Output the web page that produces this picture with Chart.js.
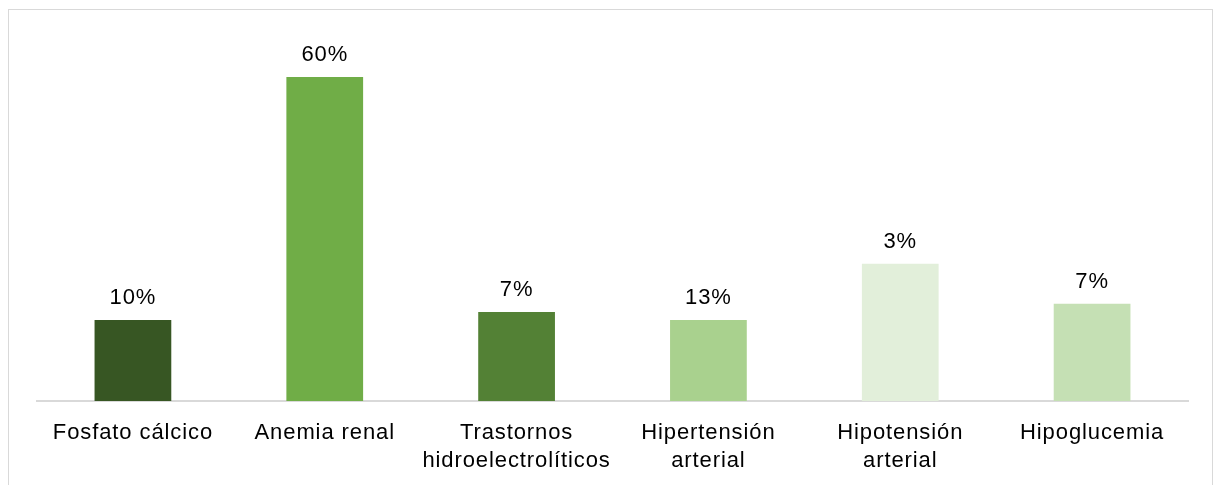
<!DOCTYPE html>
<html>
<head>
<meta charset="utf-8">
<script src="https://cdn.jsdelivr.net/npm/chart.js@4/dist/chart.umd.min.js"></script>
<style>
  html, body { margin: 0; padding: 0; background: #ffffff; }
  #wrap { position: relative; width: 1222px; height: 485px; }
  canvas { display: block; }
</style>
</head>
<body>
<div id="wrap"><canvas id="c" width="1222" height="485"></canvas></div>
<script>
// Data
const categories = [
  "Fosfato cálcico",
  "Anemia renal",
  ["Trastornos", "hidroelectrolíticos"],
  ["Hipertensión", "arterial"],
  ["Hipotensión", "arterial"],
  "Hipoglucemia"
];
// bar heights as drawn in the picture (relative units, 60 = tallest bar)
const barValues = [15, 60, 16.5, 15, 25.4, 18];
// the printed labels above each bar
const valueLabels = ["10%", "60%", "7%", "13%", "3%", "7%"];
const barColors = ["#375623", "#70AD47", "#538135", "#A9D18E", "#E2EFDA", "#C5E0B4"];

const FONT = "'Liberation Sans', Arial, sans-serif";

const framePlugin = {
  id: 'frame',
  beforeInit(chart) {
    chart.ctx.letterSpacing = '0.9px';
  },
  beforeDraw(chart) {
    const ctx = chart.ctx;
    ctx.letterSpacing = '0.9px';
    ctx.save();
    ctx.fillStyle = '#ffffff';
    ctx.fillRect(0, 0, chart.width, chart.height);
    ctx.strokeStyle = '#d9d9d9';
    ctx.lineWidth = 1;
    ctx.strokeRect(8.5, 9.5, 1204, 500);
    ctx.restore();
  }
};

const labelPlugin = {
  id: 'valueLabels',
  afterDatasetsDraw(chart) {
    const ctx = chart.ctx;
    const meta = chart.getDatasetMeta(0);
    ctx.save();
    ctx.font = '22px ' + FONT;
    ctx.fillStyle = '#000000';
    ctx.textAlign = 'center';
    ctx.textBaseline = 'alphabetic';
    meta.data.forEach((bar, i) => {
      ctx.fillText(valueLabels[i], bar.x, bar.y - 16);
    });
    ctx.restore();
  }
};

new Chart(document.getElementById('c'), {
  type: 'bar',
  data: {
    labels: categories,
    datasets: [{
      data: barValues,
      backgroundColor: barColors,
      borderWidth: 0,
      categoryPercentage: 1.0,
      barPercentage: 0.4
    }]
  },
  options: {
    responsive: false,
    animation: false,
    devicePixelRatio: 1,
    layout: { padding: { left: 37, right: 34, top: 50, bottom: 0 } },
    plugins: { legend: { display: false }, tooltip: { enabled: false } },
    scales: {
      x: {
        grid: { display: false },
        border: { display: true, color: '#d9d9d9', width: 2 },
        ticks: {
          color: '#000000',
          font: { family: FONT, size: 22, lineHeight: 1.27 },
          padding: 10,
          maxRotation: 0,
          autoSkip: false
        },
        afterFit(scale) { scale.height = 84; }
      },
      y: {
        display: false,
        min: 0,
        max: 65
      }
    }
  },
  plugins: [framePlugin, labelPlugin]
});
</script>
</body>
</html>
